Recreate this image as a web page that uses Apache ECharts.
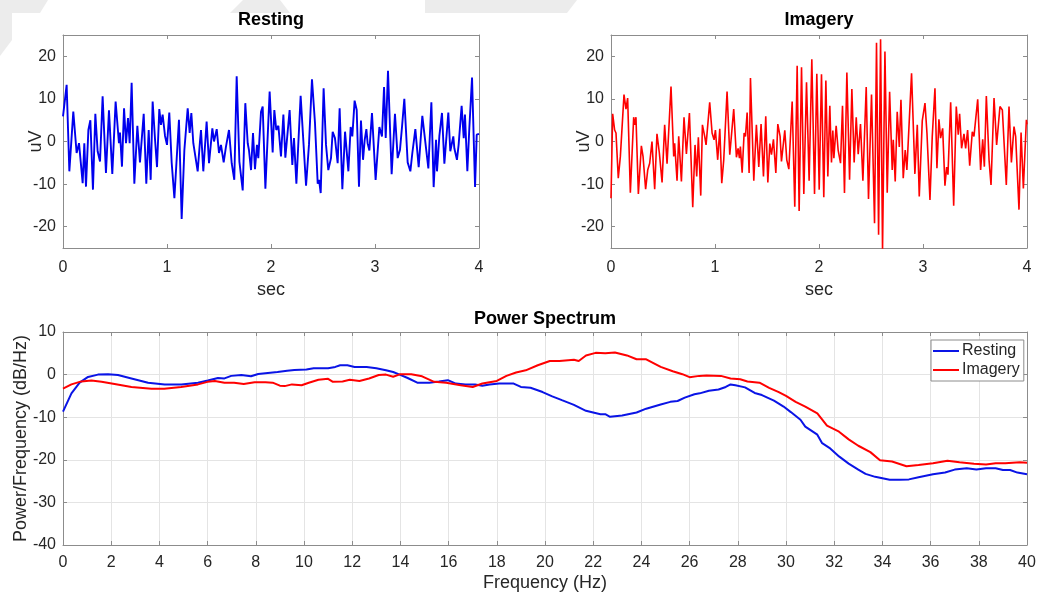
<!DOCTYPE html>
<html>
<head>
<meta charset="utf-8">
<script src="https://cdn.jsdelivr.net/npm/echarts@6/dist/echarts.min.js"></script>
<style>
html,body{margin:0;padding:0;background:#fff;}
#chart{width:1037px;height:595px;}
</style>
</head>
<body>
<div id="chart"></div>
<script>
// ---------------- DATA ----------------
const timeTicks = [0, 1, 2, 3, 4];
const uvTicks = [-20, -10, 0, 10, 20];

const restTime = [0,0.035,0.061,0.099,0.131,0.154,0.189,0.205,0.221,0.244,
0.263,0.288,0.311,0.333,0.356,0.381,0.413,0.442,0.474,0.506,
0.538,0.548,0.567,0.587,0.606,0.625,0.641,0.660,0.686,0.715,
0.740,0.776,0.801,0.824,0.843,0.862,0.885,0.904,0.926,0.942,
0.958,0.981,1.000,1.022,1.045,1.071,1.115,1.141,1.167,1.199,
1.218,1.234,1.253,1.269,1.295,1.317,1.327,1.349,1.381,1.404,
1.436,1.452,1.478,1.500,1.519,1.545,1.567,1.580,1.596,1.622,
1.647,1.670,1.696,1.708,1.728,1.753,1.776,1.788,1.808,1.827,
1.846,1.865,1.878,1.904,1.920,1.946,1.987,2.016,2.032,2.051,
2.071,2.096,2.119,2.138,2.179,2.205,2.221,2.244,2.285,2.337,
2.365,2.394,2.423,2.449,2.462,2.478,2.506,2.529,2.551,2.577,
2.593,2.615,2.641,2.660,2.686,2.712,2.728,2.744,2.766,2.782,
2.804,2.824,2.846,2.865,2.885,2.901,2.917,2.929,2.946,2.971,
3.006,3.042,3.054,3.067,3.087,3.103,3.125,3.160,3.192,3.218,
3.240,3.260,3.282,3.314,3.340,3.359,3.388,3.420,3.455,3.474,
3.513,3.542,3.564,3.587,3.596,3.619,3.644,3.667,3.705,3.724,
3.753,3.763,3.788,3.804,3.833,3.853,3.865,3.888,3.907,3.933,
3.962,3.978,4.0];
const restUv = [5.9,13.3,-7,7,-2.7,-0.4,-9.8,-0.4,-10.6,2.7,
5,-11.3,6.5,-2.3,-4.7,10.6,-7.4,7.3,-7.6,9.4,
-0.4,2.1,-5.9,7.8,-0.4,5.5,-0.4,13.8,-9.9,3.7,
-4.9,6.5,-9.9,2.7,-9,9.4,0.4,-6,7.6,3.9,
6.3,1.3,-0.8,6.8,-5,-13.3,5.1,-18.2,-2,7.8,
2,6.7,-0.4,-0.4,-7,0,2.7,-7,4.7,-5.1,
3.1,0,2.9,-2.7,-0.8,-4.9,-1.2,-1.6,2.7,-5.1,
-9,15.3,-4.7,-5.1,-11.5,9,-0.4,-2,-6.7,2,
-6.5,-0.8,-3.9,7,8.2,-11.1,11.7,-2.6,7.4,2.7,
3.7,-3.5,6.3,-3.8,7.4,-5.5,0.8,-9.9,10.7,-10.4,
-0.8,14.6,4.3,-9.9,-9,-12.1,12.5,-0.8,-6.7,-3.9,
2.3,0.8,-5.1,7.8,-11.2,2.3,2,-7,3.4,1.2,
9.6,7.4,-10.6,4.9,-4.3,0.4,2.9,-0.4,-2.1,6.7,
-9,3.4,3.1,1.2,12.8,0.8,16.6,-7.7,6.5,-3.9,
-2,3.5,10,-4.9,-7,-2.7,2.9,-6,6,5.9,
-6.3,9.2,-10.7,0.4,-7,1.3,6.7,-5.2,6.8,-2.3,
1.2,-1.6,-4.3,-0.8,8.4,0.8,6.3,-7,3.1,15,
-10.7,1.6,1.8];

const imgTime = [0,0.016,0.035,0.048,0.070,0.090,0.099,0.125,0.144,0.160,
0.186,0.218,0.227,0.240,0.263,0.292,0.308,0.333,0.353,0.372,
0.394,0.420,0.442,0.465,0.491,0.516,0.539,0.577,0.603,0.612,
0.635,0.651,0.677,0.702,0.725,0.754,0.786,0.808,0.824,0.840,
0.863,0.879,0.901,0.914,0.949,0.972,0.991,1.004,1.026,1.046,
1.065,1.084,1.094,1.116,1.142,1.158,1.180,1.206,1.222,1.235,
1.244,1.261,1.280,1.293,1.309,1.328,1.341,1.373,1.398,1.421,
1.443,1.466,1.488,1.508,1.527,1.543,1.562,1.585,1.604,1.626,
1.639,1.671,1.690,1.710,1.742,1.767,1.790,1.809,1.832,1.854,
1.880,1.905,1.931,1.957,1.979,2.002,2.024,2.046,2.066,2.085,
2.104,2.120,2.133,2.143,2.165,2.184,2.207,2.226,2.245,2.268,
2.294,2.316,2.338,2.358,2.377,2.399,2.422,2.454,2.476,2.505,
2.534,2.553,2.573,2.592,2.611,2.634,2.656,2.679,2.704,2.714,
2.733,2.752,2.772,2.788,2.810,2.829,2.845,2.890,2.922,2.945,
2.964,2.993,3.019,3.038,3.067,3.089,3.115,3.134,3.153,3.169,
3.189,3.211,3.227,3.240,3.266,3.295,3.320,3.339,3.352,3.371,
3.394,3.410,3.429,3.449,3.474,3.490,3.526,3.554,3.574,3.590,
3.609,3.635,3.654,3.683,3.708,3.740,3.763,3.801,3.827,3.850,
3.875,3.891,3.923,3.943,3.965,3.994,4.0];
const imgUv = [-13.3,6.5,2.7,2,-8.6,-3.5,-3.1,11,7.6,10.2,
-12,5.7,3.9,5.7,-12.3,-1,-3.5,-11.2,-6.7,-5.1,
0,-11.2,1.8,-2.7,-9.6,3.9,-5.2,12.9,-3.5,-0.4,
-9.2,1.2,-9.4,5.7,-2.9,6.7,-15.4,-0.8,-8.2,1,
-12.7,3.9,1.2,-0.8,9.2,2,0.4,2.7,-4.3,3,
-9.8,-4.3,-3.9,11.7,-3.1,-3.4,7.6,-3.7,-1.6,-3.9,
-1.2,-7.3,2,1.2,6.8,-7.4,14.9,-9.2,3.9,-6,
4.1,-8.2,5.9,-9.6,-0.5,-3.1,0.5,-7.4,4.1,1.2,
-4.7,2.6,-4.3,-6.5,9.4,-15.3,17.8,-16.3,17.4,-12.3,
13.9,-9.2,19.3,-12.3,15.9,-11.3,15.8,-13.1,14.3,-8.2,
8.4,-4.9,2.6,-3.9,3.7,-2,-5.1,8.4,-12.1,16.2,
-9,12.3,-4.9,5.7,-3,4.1,-9.2,12.8,-13.5,11,
-19.2,23.2,-21.9,24,-25.5,21.1,-12,11.7,-6.7,0.4,
-9.4,7,-1.3,9.8,-8.6,-2,-6.7,16,-7.6,3.9,
-12.9,4.9,9,2,-13.7,1.2,12.5,-6.3,5.2,0.8,
3.1,-10.4,-6,-7.8,9.2,-15.1,8.2,1.6,6.5,-1.6,
1.8,-1.6,2.7,-5.7,2.3,1.2,9.9,-6.7,0.5,-5.9,
10.7,-4.3,-10.2,10.2,-0.8,8.2,7.4,-10.2,8.2,-4.9,
3.5,1.2,-16,2.1,-11,5.1,4];

const psdRestFreq = [0,0.35,0.69,1.04,1.45,1.87,2.28,2.84,3.53,4.22,4.91,5.6,6.01,6.43,6.7,6.98,7.4,7.8,8.1,8.5,
8.9,9.3,9.6,10.1,10.4,11.0,11.3,11.5,11.8,12.1,12.6,13.0,13.4,13.7,13.97,14.3,14.7,15.2,15.6,15.97,
16.3,16.7,17.1,17.4,17.7,18.1,18.7,19.0,19.4,19.9,20.3,20.7,21.2,21.7,22.3,22.5,22.7,23.2,23.8,24.2,
24.8,25.2,25.5,25.8,26.2,26.42,26.8,27.2,27.5,27.7,27.9,28.3,28.7,29.0,29.5,29.9,30.2,30.6,30.8,31.3,
31.5,31.8,32.2,32.6,33.0,33.3,33.7,33.9,34.3,34.7,35.1,35.5,36.1,36.6,37.0,37.5,37.9,38.3,38.7,39.0,
39.3,39.6,40];
const psdRestDb = [-8.7,-4.4,-1.9,-0.55,0,0.1,-0.1,-0.9,-1.9,-2.3,-2.3,-1.9,-1.4,-0.8,-0.9,-0.3,-0.1,-0.4,0.15,0.4,
0.6,0.9,1.1,1.2,1.5,1.5,1.8,2.2,2.2,1.8,1.8,1.5,1.0,0.6,0,-0.8,-1.9,-1.9,-1.6,-1.3,
-2.1,-2.3,-2.3,-2.6,-2.3,-2.1,-2.1,-2.9,-3.1,-4.1,-5.1,-6,-7.1,-8.5,-9.3,-9.3,-9.9,-9.6,-8.9,-8,
-7,-6.4,-6.2,-5.4,-4.6,-4.4,-3.8,-3.5,-2.9,-2.3,-2.5,-3,-4.3,-4.8,-6.1,-7.5,-8.8,-10.6,-12.2,-14.1,
-16.1,-17.2,-19.2,-20.9,-22.3,-23.3,-24,-24.2,-24.7,-24.7,-24.6,-24.1,-23.4,-23,-22.3,-22,-22.3,-22,-22,-22.4,
-22.4,-23,-23.4];

const psdImgFreq = [0,0.35,0.76,1.18,1.6,2.14,2.84,3.67,4.2,4.9,5.6,6.0,6.3,6.7,7.1,7.5,7.95,8.4,8.7,9.0,
9.2,9.5,9.9,10.2,10.6,11.0,11.2,11.6,11.9,12.3,12.7,13.1,13.4,13.7,14.0,14.45,14.9,15.4,15.9,16.5,
17.0,17.4,18.0,18.4,18.8,19.2,19.7,20.2,20.6,21.2,21.4,21.7,22.1,22.5,22.9,23.4,23.8,24.2,24.8,25.3,
25.7,26.0,26.4,26.7,27.3,27.7,28.1,28.4,28.9,29.3,29.7,30.0,30.4,30.8,31.3,31.7,32.2,32.6,33.0,33.5,
33.9,34.4,35.0,35.5,36.1,36.7,37.2,37.8,38.3,38.7,39.1,39.7,40];
const psdImgDb = [-3.3,-2.3,-1.6,-1.4,-1.7,-2.2,-2.9,-3.3,-3.3,-2.9,-2.3,-1.7,-1.5,-1.9,-1.9,-2.2,-1.8,-1.8,-1.9,-2.6,
-2.7,-2.3,-2.5,-1.9,-1.2,-1.0,-1.7,-1.6,-1.2,-1.5,-0.9,-0.1,0,-0.5,0.1,0.1,-0.4,-1.7,-1.9,-2.5,
-2.9,-2.1,-1.5,-0.3,0.5,1.0,2.2,3.2,3.2,3.5,3.2,4.5,5.1,5.0,5.2,4.5,3.6,3.6,1.8,0.8,
0.1,-0.6,-0.3,-0.2,-0.3,-0.9,-1.1,-1.6,-1.9,-3.1,-4.1,-5.0,-6.4,-7.5,-9.1,-12.0,-13.4,-15.2,-16.7,-18.2,
-20.1,-20.4,-21.5,-21.2,-20.8,-20.2,-20.6,-20.9,-21.1,-20.8,-20.8,-20.6,-20.7];

const freqTicks = {min: 0, max: 40, step: 2};
const dbTicks = {min: -40, max: 10, step: 10};

// ---------------- CHART ----------------
function zip(a, b) {
  const n = Math.min(a.length, b.length);
  const out = [];
  for (let i = 0; i < n; i++) out.push([a[i], b[i]]);
  return out;
}

const FONT = '"Liberation Sans", Arial, Helvetica, sans-serif';
const AXIS_COLOR = '#8c8c8c';
const TEXT_COLOR = '#262626';
const GRID_COLOR = '#e4e4e4';

const grids = [
  {left: 63, top: 35, width: 416, height: 213, outerBoundsMode: 'none', containLabel: false},
  {left: 611, top: 35, width: 416, height: 213, outerBoundsMode: 'none', containLabel: false},
  {left: 63, top: 332, width: 964, height: 213, outerBoundsMode: 'none', containLabel: false}
];

function timeXAxis(gi, pos) {
  const bottom = pos === 'bottom';
  return {
    type: 'value', gridIndex: gi, position: pos,
    min: timeTicks[0], max: timeTicks[timeTicks.length - 1], interval: 1,
    axisLine: {show: true, onZero: false, lineStyle: {color: AXIS_COLOR, width: 1}},
    axisTick: {show: true, inside: true, length: 4, lineStyle: {color: AXIS_COLOR}},
    axisLabel: {show: bottom, color: TEXT_COLOR, fontSize: 16, fontFamily: FONT, margin: 12},
    splitLine: {show: false},
    name: bottom ? 'sec' : '', nameLocation: 'middle', nameGap: 33, nameMoveOverlap: false,
    nameTextStyle: {color: TEXT_COLOR, fontSize: 18, fontFamily: FONT}
  };
}
function timeYAxis(gi, pos) {
  const left = pos === 'left';
  return {
    type: 'value', gridIndex: gi, position: pos,
    min: -25, max: 25,
    axisLine: {show: true, onZero: false, lineStyle: {color: AXIS_COLOR, width: 1}},
    axisTick: {show: true, inside: true, length: 4, customValues: uvTicks, lineStyle: {color: AXIS_COLOR}},
    axisLabel: {show: left, customValues: uvTicks, color: TEXT_COLOR, fontSize: 16, fontFamily: FONT, margin: 7},
    splitLine: {show: false},
    name: left ? 'uV' : '', nameLocation: 'middle', nameGap: 18, nameRotate: 90, nameMoveOverlap: false,
    nameTextStyle: {color: TEXT_COLOR, fontSize: 18, fontFamily: FONT}
  };
}
function freqXAxis(pos) {
  const bottom = pos === 'bottom';
  return {
    type: 'value', gridIndex: 2, position: pos,
    min: freqTicks.min, max: freqTicks.max, interval: freqTicks.step,
    axisLine: {show: true, onZero: false, lineStyle: {color: AXIS_COLOR, width: 1}},
    axisTick: {show: true, inside: true, length: 4, lineStyle: {color: AXIS_COLOR}},
    axisLabel: {show: bottom, color: TEXT_COLOR, fontSize: 16, fontFamily: FONT, margin: 10},
    splitLine: {show: bottom, lineStyle: {color: GRID_COLOR, width: 1}},
    name: bottom ? 'Frequency (Hz)' : '', nameLocation: 'middle', nameGap: 29, nameMoveOverlap: false,
    nameTextStyle: {color: TEXT_COLOR, fontSize: 18, fontFamily: FONT}
  };
}
function dbYAxis(pos) {
  const left = pos === 'left';
  return {
    type: 'value', gridIndex: 2, position: pos,
    min: dbTicks.min, max: dbTicks.max, interval: dbTicks.step,
    axisLine: {show: true, onZero: false, lineStyle: {color: AXIS_COLOR, width: 1}},
    axisTick: {show: true, inside: true, length: 4, lineStyle: {color: AXIS_COLOR}},
    axisLabel: {show: left, color: TEXT_COLOR, fontSize: 16, fontFamily: FONT, margin: 7},
    splitLine: {show: left, lineStyle: {color: GRID_COLOR, width: 1}},
    name: left ? 'Power/Frequency (dB/Hz)' : '', nameLocation: 'middle', nameGap: 33, nameRotate: 90, nameMoveOverlap: false,
    nameTextStyle: {color: TEXT_COLOR, fontSize: 18, fontFamily: FONT}
  };
}

const titleStyle = {color: '#000', fontSize: 18, fontWeight: 'bold', fontFamily: FONT};

const option = {
  animation: false,
  backgroundColor: '#ffffff',
  textStyle: {fontFamily: FONT},
  graphic: [
    {type: 'polygon', z: -10, shape: {points: [[0,0],[48,0],[40,13],[12,13],[12,40],[0,56]]}, style: {fill: '#ececec'}},
    {type: 'polygon', z: -10, shape: {points: [[230,13],[243,0],[280,0],[290,13]]}, style: {fill: '#ececec'}},
    {type: 'polygon', z: -10, shape: {points: [[425,0],[577,0],[567,13],[425,13]]}, style: {fill: '#ececec'}}
  ],
  title: [
    {text: 'Resting', left: 271, top: 11, textAlign: 'center', padding: 0, textStyle: titleStyle},
    {text: 'Imagery', left: 819, top: 11, textAlign: 'center', padding: 0, textStyle: titleStyle},
    {text: 'Power Spectrum', left: 545, top: 310, textAlign: 'center', padding: 0, textStyle: titleStyle}
  ],
  legend: {
    show: true, orient: 'vertical', left: 931, top: 340,
    data: [{name: 'Resting', icon: 'rect'}, {name: 'Imagery', icon: 'rect'}],
    backgroundColor: '#ffffff', borderColor: '#8c8c8c', borderWidth: 1,
    padding: [3, 4, 3, 2], itemGap: 3, itemWidth: 26, itemHeight: 2,
    textStyle: {color: TEXT_COLOR, fontSize: 16, fontFamily: FONT, padding: [0, 0, 0, -2]}
  },
  grid: grids,
  xAxis: [
    timeXAxis(0, 'bottom'), timeXAxis(0, 'top'),
    timeXAxis(1, 'bottom'), timeXAxis(1, 'top'),
    freqXAxis('bottom'), freqXAxis('top')
  ],
  yAxis: [
    timeYAxis(0, 'left'), timeYAxis(0, 'right'),
    timeYAxis(1, 'left'), timeYAxis(1, 'right'),
    dbYAxis('left'), dbYAxis('right')
  ],
  series: [
    {type: 'line', name: 'Resting EEG', xAxisIndex: 0, yAxisIndex: 0, data: zip(restTime, restUv),
     symbol: 'none', clip: true, lineStyle: {color: '#0000ee', width: 1.9}, itemStyle: {color: '#0000ee'}},
    {type: 'line', name: 'Imagery EEG', xAxisIndex: 2, yAxisIndex: 2, data: zip(imgTime, imgUv),
     symbol: 'none', clip: true, lineStyle: {color: '#ff0000', width: 1.6}, itemStyle: {color: '#ff0000'}},
    {type: 'line', name: 'Resting', xAxisIndex: 4, yAxisIndex: 4, data: zip(psdRestFreq, psdRestDb),
     symbol: 'none', clip: true, lineStyle: {color: '#0a14e6', width: 2}, itemStyle: {color: '#0a14e6'}},
    {type: 'line', name: 'Imagery', xAxisIndex: 4, yAxisIndex: 4, data: zip(psdImgFreq, psdImgDb),
     symbol: 'none', clip: true, lineStyle: {color: '#ff0000', width: 2}, itemStyle: {color: '#ff0000'}}
  ]
};

const chart = echarts.init(document.getElementById('chart'), null, {renderer: 'canvas'});
chart.setOption(option);
</script>
</body>
</html>
